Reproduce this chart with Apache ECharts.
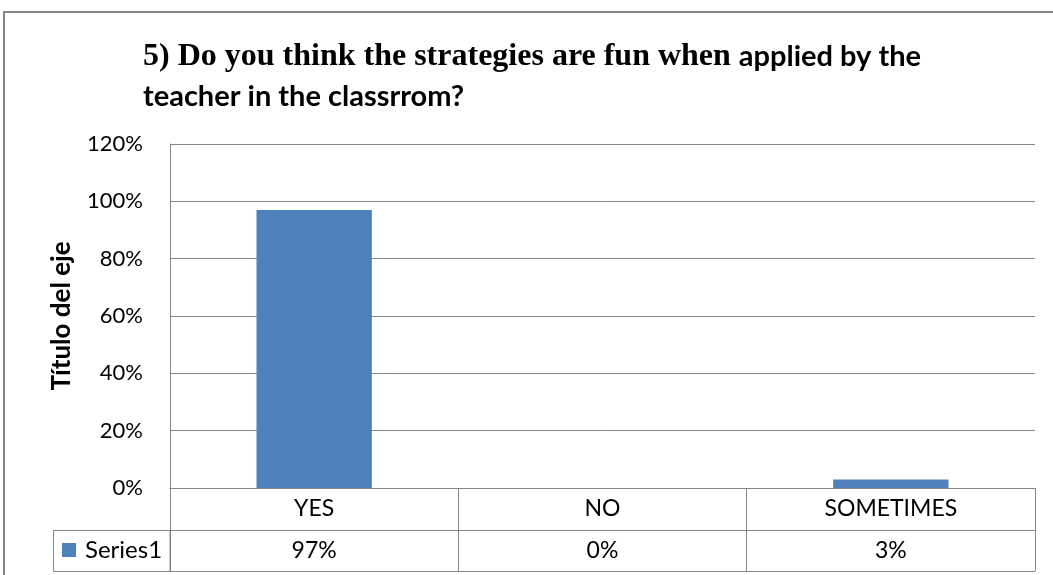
<!DOCTYPE html>
<html>
<head>
<meta charset="utf-8">
<script src="https://cdn.jsdelivr.net/npm/echarts@6/dist/echarts.min.js"></script>
<style>
  html, body { margin: 0; padding: 0; background: #fff; }
  #chart { width: 1053px; height: 575px; }
</style>
</head>
<body>
<div id="chart"></div>
<script>
// Survey answers for question 5
const categories = ['YES', 'NO', 'SOMETIMES'];
const series1 = [0.97, 0, 0.03];
const seriesName = 'Series1';
const yTicks = { min: 0, max: 1.2, interval: 0.2 };

const SANS = 'Lato, "Liberation Sans", sans-serif';
const SERIF = '"Liberation Serif", "Times New Roman", serif';
const GRID = '#868686';
const pct = v => Math.round(v * 100) + '%';

const chart = echarts.init(document.getElementById('chart'));

const gridLeft = 170, gridRight = 1035, gridTop = 144, gridBottom = 488;
const rowH = 42;

chart.setOption({
  animation: false,
  backgroundColor: '#fff',
  title: {
    left: 143,
    top: 37,
    padding: 0,
    text: '{a|5) Do you think the strategies are fun when }{b|applied by the}\n{b|teacher in the classrrom?}',
    textStyle: {
      rich: {
        a: { fontFamily: SERIF, fontWeight: 'bold', fontSize: 32, color: '#000', lineHeight: 40 },
        b: { fontFamily: SANS, fontWeight: 'bold', fontSize: 29, color: '#000', lineHeight: 40 }
      }
    }
  },
  legend: {
    left: 62,
    top: 538,
    padding: 0,
    itemWidth: 14,
    itemHeight: 14,
    itemGap: 6,
    icon: 'rect',
    selectedMode: false,
    textStyle: { fontFamily: SANS, fontSize: 24, color: '#000', padding: [0, 0, 0, 4] },
    data: [seriesName]
  },
  grid: { left: gridLeft, right: 1053 - gridRight, top: gridTop, bottom: 575 - gridBottom },
  xAxis: [
    {
      type: 'category',
      data: categories,
      axisLine: { lineStyle: { color: GRID, width: 1 } },
      axisTick: { show: true, length: rowH * 2 - 1, lineStyle: { color: GRID } },
      axisLabel: { fontFamily: SANS, fontSize: 23, color: '#000', margin: 9 }
    },
    {
      type: 'category',
      data: series1.map(pct),
      position: 'bottom',
      offset: rowH,
      axisLine: { lineStyle: { color: GRID, width: 1 } },
      axisTick: { show: false },
      axisLabel: { fontFamily: SANS, fontSize: 23, color: '#000', margin: 9 }
    },
    {
      type: 'category',
      data: categories,
      position: 'bottom',
      offset: rowH * 2 - 1,
      axisLine: { lineStyle: { color: GRID, width: 1 } },
      axisTick: { show: false },
      axisLabel: { show: false }
    }
  ],
  yAxis: {
    type: 'value',
    min: yTicks.min,
    max: yTicks.max,
    interval: yTicks.interval,
    name: 'Título del eje',
    nameLocation: 'middle',
    nameRotate: 90,
    nameGap: 95,
    nameTextStyle: { fontFamily: SANS, fontWeight: 'bold', fontSize: 26, color: '#000' },
    axisLine: { show: true, lineStyle: { color: GRID } },
    axisTick: { show: false },
    axisLabel: { fontFamily: SANS, fontSize: 22, color: '#000', margin: 27, formatter: pct },
    splitLine: { lineStyle: { color: GRID, width: 1 } }
  },
  series: [{
    name: seriesName,
    type: 'bar',
    xAxisIndex: 0,
    data: series1,
    barWidth: '40%',
    itemStyle: { color: '#4F81BD' }
  }],
  graphic: [
    // outer chart frame
    { type: 'rect', shape: { x: 4, y: 12, width: 1100, height: 600 }, style: { fill: 'none', stroke: GRID, lineWidth: 2 }, silent: true },
    // legend key cell of the data table
    { type: 'rect', shape: { x: 53.5, y: gridBottom + rowH + 0.5, width: gridLeft - 53.5, height: rowH - 1 }, style: { fill: 'none', stroke: GRID, lineWidth: 1 }, silent: true }
  ]
});
</script>
</body>
</html>
